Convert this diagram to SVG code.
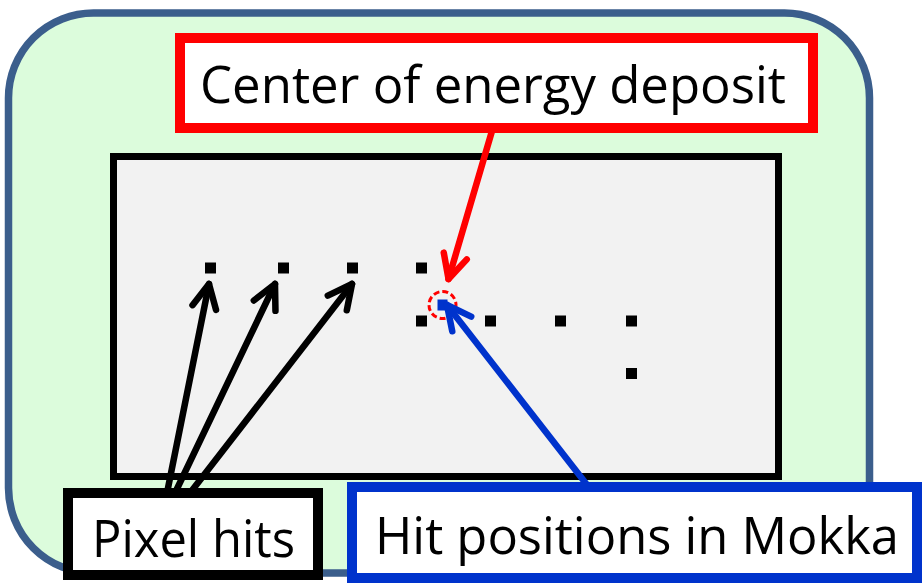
<svg xmlns="http://www.w3.org/2000/svg" width="922" height="583" viewBox="0 0 922 583">
<style>
.lbl{font-family:"Open Sans","Liberation Sans",sans-serif;font-size:52px;fill:#000}
.dot{fill:#000}
.arr{fill:none;stroke-width:6.5;stroke-linecap:round}
</style>
<defs>
<marker id="mkK" markerUnits="userSpaceOnUse" viewBox="-30 -16 36 32" markerWidth="36" markerHeight="32" refX="0" refY="0" orient="auto">
<path d="M-24,-12 L0,0 L-24,12" fill="none" stroke="#000" stroke-width="6.5" stroke-linecap="round" stroke-linejoin="round"/>
</marker>
<marker id="mkR" markerUnits="userSpaceOnUse" viewBox="-30 -16 36 32" markerWidth="36" markerHeight="32" refX="0" refY="0" orient="auto">
<path d="M-24,-12 L0,0 L-24,12" fill="none" stroke="#ff0000" stroke-width="6.5" stroke-linecap="round" stroke-linejoin="round"/>
</marker>
<marker id="mkB" markerUnits="userSpaceOnUse" viewBox="-30 -16 36 32" markerWidth="36" markerHeight="32" refX="0" refY="0" orient="auto">
<path d="M-24,-12 L0,0 L-24,12" fill="none" stroke="#0033cc" stroke-width="6.5" stroke-linecap="round" stroke-linejoin="round"/>
</marker>
</defs>
<g id="outer">
<rect x="8.5" y="13" width="861" height="560" rx="85" ry="85" fill="#dcfcdc" stroke="#3b5e8c" stroke-width="7.5"/>
</g>
<g id="sensor">
<rect x="113.5" y="156.5" width="665" height="320" fill="#f2f2f2" stroke="#000" stroke-width="7"/>
</g>
<g id="pixels">
<rect class="dot" x="205" y="262.5" width="11" height="11"/>
<rect class="dot" x="278" y="262.5" width="11" height="11"/>
<rect class="dot" x="347" y="262.5" width="11" height="11"/>
<rect class="dot" x="416" y="262.5" width="11" height="11"/>
<rect class="dot" x="416" y="315.5" width="11" height="11"/>
<rect class="dot" x="485" y="315.5" width="11" height="11"/>
<rect class="dot" x="555" y="315.5" width="11" height="11"/>
<rect class="dot" x="626" y="315.5" width="11" height="11"/>
<rect class="dot" x="626" y="368" width="11" height="11"/>
</g>
<g id="center-marker">
<circle cx="442.5" cy="305" r="13.5" fill="none" stroke="#ff0000" stroke-width="3" stroke-dasharray="6 3"/>
<rect x="437.5" y="299.5" width="10" height="11" fill="#0033cc"/>
</g>
<g id="connectors">
<line class="arr" x1="492" y1="131" x2="448.5" y2="279" stroke="#ff0000" marker-end="url(#mkR)"/>
<line class="arr" x1="591" y1="490" x2="447" y2="305" stroke="#0033cc" marker-end="url(#mkB)"/>
<line class="arr" x1="167" y1="493" x2="209" y2="284" stroke="#000" marker-end="url(#mkK)"/>
<line class="arr" x1="175" y1="493" x2="275" y2="284" stroke="#000" marker-end="url(#mkK)"/>
<line class="arr" x1="190" y1="493" x2="352" y2="284" stroke="#000" marker-end="url(#mkK)"/>
</g>
<g id="label-center">
<rect x="180" y="38" width="633" height="90" fill="#fff" stroke="#ff0000" stroke-width="10"/>
<text class="lbl" x="200" y="103" textLength="586" lengthAdjust="spacingAndGlyphs">Center of energy deposit</text>
</g>
<g id="label-pixel">
<rect x="68" y="493" width="250" height="82" fill="#fff" stroke="#000" stroke-width="10"/>
<text class="lbl" x="92" y="557" textLength="203" lengthAdjust="spacingAndGlyphs">Pixel hits</text>
</g>
<g id="label-mokka">
<rect x="352" y="487" width="565" height="91" fill="#fff" stroke="#0033cc" stroke-width="10"/>
<text class="lbl" x="375" y="554" textLength="524" lengthAdjust="spacingAndGlyphs">Hit positions in Mokka</text>
</g>
</svg>
